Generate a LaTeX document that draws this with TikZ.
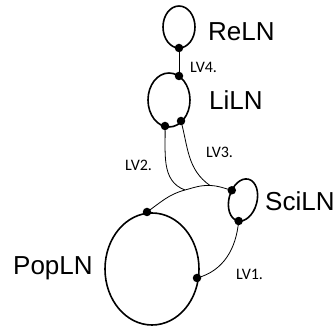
\documentclass[tikz,border=0pt]{standalone}
\usepackage{fontspec}
\setmainfont{Liberation Sans}
\newfontfamily\lvfont{Carlito}
\begin{document}
\begin{tikzpicture}[x=1pt,y=-1pt,
  loop/.style={draw,line width=1.6pt},
  conn/.style={draw,line width=0.8pt},
  dotnode/.style={circle,fill=black,inner sep=0pt,minimum size=8.5pt},
  big/.style={font=\fontsize{26}{26}\selectfont,inner sep=0pt},
  lv/.style={font=\lvfont\fontsize{16}{16}\selectfont,inner sep=0pt,anchor=west}]
\useasboundingbox (0,0) rectangle (335,328);
% loops
\draw[loop] (179,27) ellipse [x radius=16, y radius=21];
\draw[loop] (169,100) ellipse [x radius=21, y radius=27];
\draw[loop] (152,269) ellipse [x radius=47, y radius=56];
\begin{scope}[shift={(243,200)},rotate=-15]
  \draw[loop] (0,0) ellipse [x radius=14, y radius=21.5];
  \node[dotnode] (s1) at ({14*cos(197.5)},{21.5*sin(197.5)}) {};
  \node[dotnode] (s2) at ({14*cos(85)},{21.5*sin(85)}) {};
\end{scope}
% dots
\node[dotnode] (r1) at (179,48) {};
\node[dotnode] (l0) at (179,76) {};
\node[dotnode] (l1) at (165,126) {};
\node[dotnode] (l2) at (181,121) {};
\node[dotnode] (p1) at (147,212) {};
\node[dotnode] (p2) at (197,278) {};
\coordinate (j2) at (185,190);
\coordinate (j3) at (210,185.5);
% connectors
\draw[conn] (r1.center) -- (l0.center);
\draw[conn] (p1.center) to[out=35,in=195] (j2) to[out=15,in=178] (j3) to[out=-2,in=165] (s1.center);
\draw[conn] (l1.center) to[out=-88,in=160] (j2);
\draw[conn] (l2.center) to[out=-75,in=145] (j3);
\draw[conn] (s2.center) to[out=-95,in=15] (p2.center);
% labels
\node[big,anchor=west] (tre) at (208,32) {ReLN};
\node[big,anchor=west] (tli) at (209,100) {LiLN};
\node[big,anchor=west] (tsc) at (265,201) {SciLN};
\node[big,anchor=west] (tpo) at (13,268) {PopLN};
\node[lv] (v4) at (190,67) {LV4.};
\node[lv] (v3) at (206,152) {LV3.};
\node[lv] (v2) at (125,165) {LV2.};
\node[lv] (v1) at (236,274) {LV1.};
\end{tikzpicture}
\end{document}
